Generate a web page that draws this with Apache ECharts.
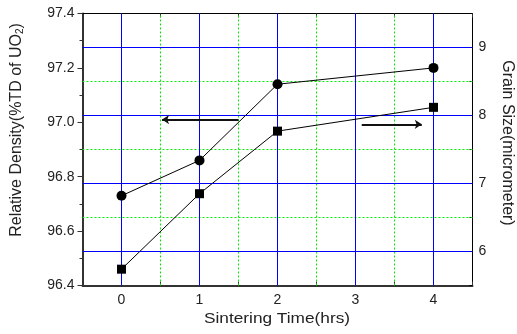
<!DOCTYPE html>
<html>
<head>
<meta charset="utf-8">
<script src="https://cdn.jsdelivr.net/npm/echarts@6/dist/echarts.min.js"></script>
<style>html,body{margin:0;padding:0;background:#fff;}#c{width:517px;height:334px;}</style>
</head>
<body>
<div id="c"></div>
<script>
// ---- data ----
const times = [0, 1, 2, 4];
const density = [96.73, 96.86, 97.14, 97.20];      // left axis, circles
const grainSize = [5.74, 6.85, 7.77, 8.12];        // right axis, squares
const densityArrow = [[1.50, 97.01], [0.52, 97.01]];
const grainArrow = [[3.08, 7.87], [3.85, 7.87]];
// grid line positions
const xMajorGrid = [0, 1, 2, 3, 4];
const xMinorGrid = [0.5, 1.5, 2.5, 3.5];
const yMajorGrid = [6, 7, 8, 9];          // right-axis values
const yMinorGrid = [6.5, 7.5, 8.5];
const xTitle = 'Sintering Time(hrs)';
const yLeftTitle = 'Relative Density(%TD of UO{sub|2})';
const yRightTitle = 'Grain Size(micrometer)';

const FONT = 'Liberation Sans, Arial, sans-serif';
const BLUE = '#0000ff';
const GREEN = '#00ee00';
const isInt = v => Math.abs(v - Math.round(v)) < 1e-6;

const gridLine = (vals, key, color, type) => ({
  silent: true, symbol: ['none', 'none'], label: {show: false}, emphasis: {disabled: true},
  lineStyle: {color: color, width: 1, type: type, opacity: 1},
  data: vals.map(v => ({[key]: v, lineStyle: {color: color}}))
});

const chart = echarts.init(document.getElementById('c'), null, {renderer: 'canvas'});
chart.setOption({
  animation: false,
  backgroundColor: '#fff',
  grid: {left: 82.5, right: 44.5, top: 13.5, bottom: 48.5, containLabel: false},
  xAxis: [
    {
      type: 'value', position: 'bottom', min: -0.5, max: 4.5, interval: 0.5,
      axisLine: {show: true, onZero: false, lineStyle: {color: '#333', width: 2}},
      axisTick: {show: true, inside: true, length: 4, lineStyle: {color: '#333'}},
      axisLabel: {fontSize: 14, color: '#222', fontFamily: FONT, margin: 8,
        formatter: v => isInt(v) ? String(Math.round(v)) : ''},
      splitLine: {show: false}
    },
    {
      type: 'value', position: 'top', min: -0.5, max: 4.5, interval: 0.5,
      axisLine: {show: true, onZero: false, lineStyle: {color: '#000', width: 1}},
      axisTick: {show: true, inside: true, length: 4, lineStyle: {color: '#333'}},
      axisLabel: {show: false},
      splitLine: {show: false}
    }
  ],
  yAxis: [
    {
      type: 'value', position: 'left', min: 96.4, max: 97.4, interval: 0.2,
      axisLine: {show: true, onZero: false, lineStyle: {color: '#333', width: 2}},
      axisTick: {show: true, inside: false, length: 5, lineStyle: {color: '#333'}},
      minorTick: {show: true, splitNumber: 2, length: 3, lineStyle: {color: '#333'}},
      axisLabel: {fontSize: 14, color: '#222', fontFamily: FONT, margin: 8,
        formatter: v => v.toFixed(1)},
      splitLine: {show: false}
    },
    {
      type: 'value', position: 'right', min: 5.5, max: 9.5, interval: 0.5,
      axisLine: {show: true, onZero: false, lineStyle: {color: '#000', width: 1}},
      axisTick: {show: true, inside: true, length: 3, lineStyle: {color: '#000'}},
      axisLabel: {fontSize: 14, color: '#222', fontFamily: FONT, margin: 6,
        formatter: v => isInt(v) ? String(Math.round(v)) : ''},
      splitLine: {show: false}
    }
  ],
  series: [
    {
      name: 'gridX', type: 'line', xAxisIndex: 0, yAxisIndex: 1, data: [], z: 1,
      markLine: gridLine(xMinorGrid, 'xAxis', GREEN, [2, 2])
    },
    {
      name: 'gridY', type: 'line', xAxisIndex: 0, yAxisIndex: 1, data: [], z: 1,
      markLine: gridLine(yMinorGrid, 'yAxis', GREEN, [2, 2])
    },
    {
      name: 'gridXMajor', type: 'line', xAxisIndex: 0, yAxisIndex: 1, data: [], z: 1,
      markLine: gridLine(xMajorGrid, 'xAxis', BLUE, 'solid')
    },
    {
      name: 'gridYMajor', type: 'line', xAxisIndex: 0, yAxisIndex: 1, data: [], z: 1,
      markLine: gridLine(yMajorGrid, 'yAxis', BLUE, 'solid')
    },
    {
      name: 'Relative Density', type: 'line', xAxisIndex: 0, yAxisIndex: 0,
      data: times.map((t, i) => [t, density[i]]),
      symbol: 'circle', symbolSize: 10, z: 5,
      itemStyle: {color: '#000'}, lineStyle: {color: '#000', width: 1},
      markLine: {
        silent: true, symbol: ['none', 'arrow'], symbolSize: 7,
        label: {show: false}, emphasis: {disabled: true},
        lineStyle: {color: '#111', width: 2, type: 'solid'},
        data: [[{coord: densityArrow[0]}, {coord: densityArrow[1]}]]
      }
    },
    {
      name: 'Grain Size', type: 'line', xAxisIndex: 0, yAxisIndex: 1,
      data: times.map((t, i) => [t, grainSize[i]]),
      symbol: 'rect', symbolSize: 9, z: 5,
      itemStyle: {color: '#000'}, lineStyle: {color: '#000', width: 1},
      markLine: {
        silent: true, symbol: ['none', 'arrow'], symbolSize: 7,
        label: {show: false}, emphasis: {disabled: true},
        lineStyle: {color: '#111', width: 2, type: 'solid'},
        data: [[{coord: grainArrow[0]}, {coord: grainArrow[1]}]]
      }
    }
  ],
  graphic: [
    {
      type: 'text', x: 277, y: 319, scaleX: 1.15, silent: true,
      style: {text: xTitle, font: '15px ' + FONT, fill: '#222', align: 'center', verticalAlign: 'middle'}
    },
    {
      type: 'text', x: 17, y: 130, rotation: Math.PI / 2, silent: true,
      style: {text: yLeftTitle, font: '16px ' + FONT, fill: '#222', align: 'center', verticalAlign: 'middle',
        rich: {sub: {fontSize: 10, fontFamily: FONT, fill: '#222', padding: [6, 0, 0, 0]}}}
    },
    {
      type: 'text', x: 507, y: 143, rotation: -Math.PI / 2, silent: true,
      style: {text: yRightTitle, font: '16px ' + FONT, fill: '#222', align: 'center', verticalAlign: 'middle'}
    }
  ]
});
</script>
</body>
</html>
